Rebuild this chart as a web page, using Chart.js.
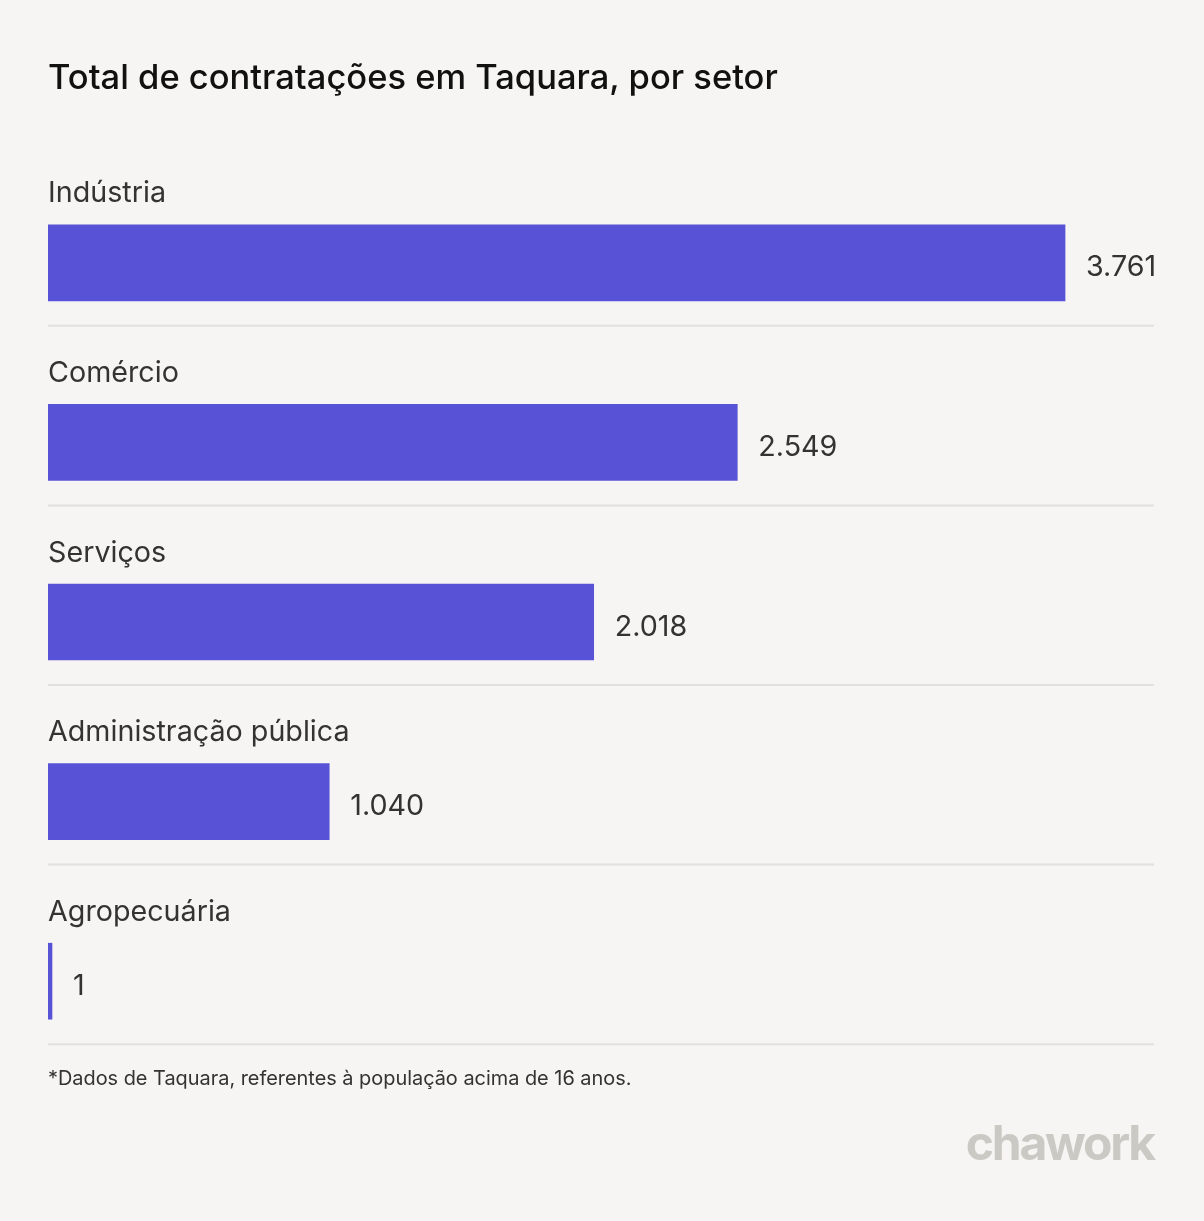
<!DOCTYPE html>
<html>
<head>
<meta charset="utf-8">
<script src="https://cdn.jsdelivr.net/npm/chart.js@4"></script>
<style>
  html, body { margin: 0; padding: 0; background: #f6f5f3; }
  body { width: 1204px; height: 1221px; position: relative; overflow: hidden; font-family: Inter, "Noto Sans", sans-serif; }
  #wrap { position: absolute; left: 0; top: 0; width: 1204px; height: 1221px; }
  #title { position: absolute; left: 48px; top: 56px; font-size: 34.5px; font-weight: 500; color: #111; white-space: nowrap; letter-spacing: 0px; }
  #note { position: absolute; left: 48px; top: 1066px; font-size: 19.9px; color: #333; white-space: nowrap; }
  #logo { position: absolute; right: 50px; top: 1113px; font-size: 48px; font-weight: 700; color: #cbc9c3; letter-spacing: -2.2px; }
</style>
</head>
<body>
<div id="wrap"><canvas id="c" width="1204" height="1221"></canvas></div>
<div id="title">Total de contratações em Taquara, por setor</div>
<div id="note">*Dados de Taquara, referentes à população acima de 16 anos.</div>
<div id="logo">chawork</div>
<script>
const categories = ["Indústria", "Comércio", "Serviços", "Administração pública", "Agropecuária"];
const values = [3761, 2549, 2018, 1040, 1];
const valueLabels = ["3.761", "2.549", "2.018", "1.040", "1"];

const labelPlugin = {
  id: 'labelPlugin',
  afterDatasetsDraw(chart) {
    const ctx = chart.ctx;
    const meta = chart.getDatasetMeta(0);
    const area = chart.chartArea;
    ctx.save();
    meta.data.forEach((bar, i) => {
      const top = bar.y - bar.height / 2;
      const bottom = bar.y + bar.height / 2;
      ctx.fillStyle = '#333';
      ctx.font = '28.7px Inter, "Noto Sans", sans-serif';
      ctx.textBaseline = 'middle';
      ctx.textAlign = 'left';
      ctx.fillText(categories[i], area.left, top - 31);
      ctx.fillText(valueLabels[i], bar.x + 21, bar.y + 5);
      ctx.strokeStyle = '#e2e0dc';
      ctx.lineWidth = 2;
      ctx.beginPath();
      ctx.moveTo(area.left, bottom + 25);
      ctx.lineTo(area.right, bottom + 25);
      ctx.stroke();
    });
    ctx.restore();
  }
};

new Chart(document.getElementById('c'), {
  type: 'bar',
  data: {
    labels: categories,
    datasets: [{
      data: values,
      backgroundColor: '#5852d6',
      borderWidth: 0,
      barThickness: 76,
      minBarLength: 4
    }]
  },
  options: {
    indexAxis: 'y',
    responsive: false,
    animation: false,
    devicePixelRatio: 1,
    layout: { padding: { left: 48, right: 50, top: 173, bottom: 150 } },
    scales: {
      x: { display: false, min: 0, max: 4090 },
      y: { display: false }
    },
    plugins: { legend: { display: false }, tooltip: { enabled: false }, title: { display: false } }
  },
  plugins: [labelPlugin]
});
</script>
</body>
</html>
